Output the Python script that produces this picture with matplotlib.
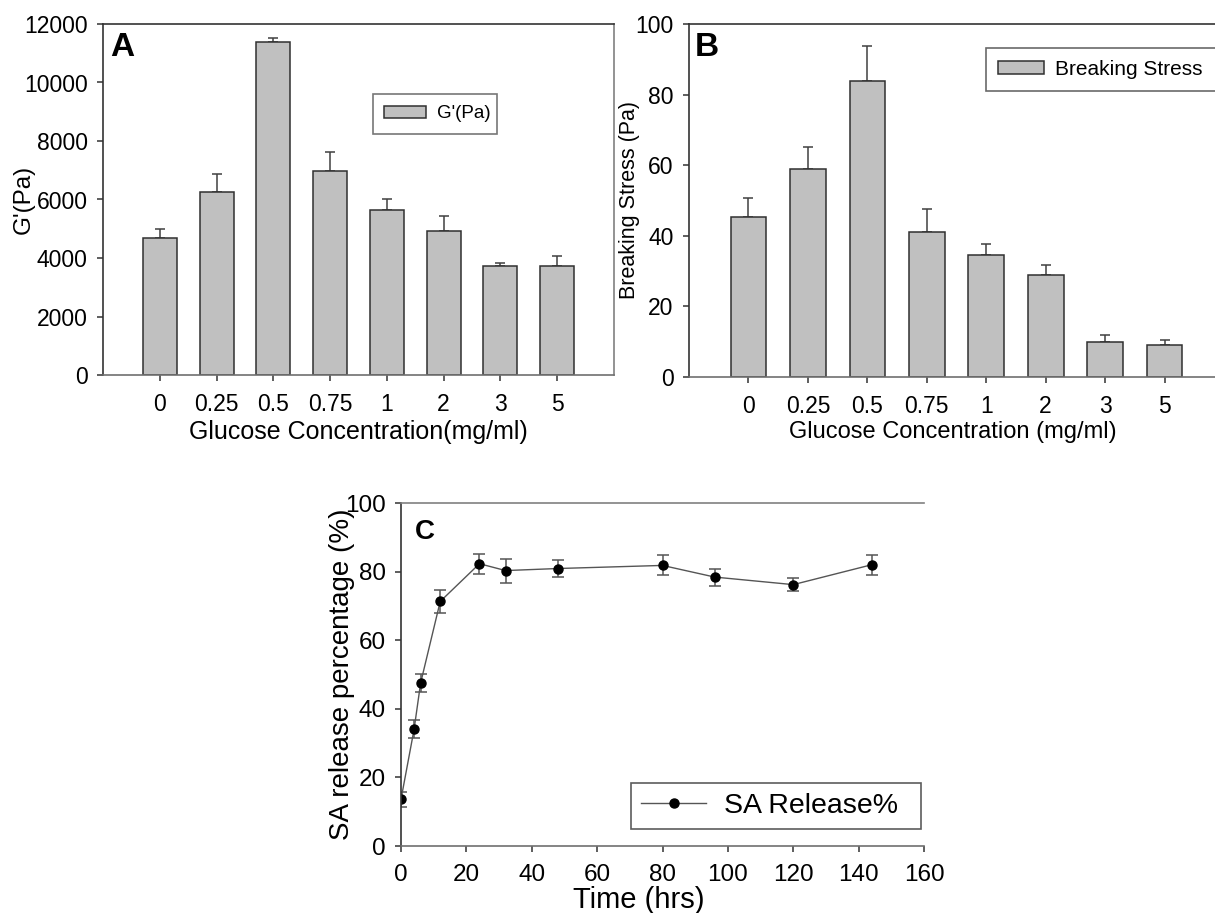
import numpy as np
import matplotlib
matplotlib.use("Agg")
import matplotlib.pyplot as plt

plt.rcParams['font.family'] = ['Liberation Sans', 'DejaVu Sans']

# ---- data ----
conc_labels = ['0', '0.25', '0.5', '0.75', '1', '2', '3', '5']
g_mean = [4690, 6250, 11370, 6970, 5635, 4916, 3718, 3718]
g_err = [310, 620, 140, 650, 365, 536, 100, 343]

bs_mean = [45.2, 58.8, 83.9, 41.2, 34.6, 29.0, 9.9, 9.0]
bs_err = [5.6, 6.4, 9.8, 6.3, 3.2, 2.6, 2.0, 1.4]

time_hrs = [0, 4, 6, 12, 24, 32, 48, 80, 96, 120, 144]
release = [13.6, 34.0, 47.5, 71.3, 82.3, 80.3, 80.9, 81.8, 78.4, 76.2, 82.0]
release_err = [2.1, 2.6, 2.7, 3.4, 2.9, 3.5, 2.6, 2.9, 2.5, 1.8, 2.9]

W, H = 1215, 913
fig = plt.figure(figsize=(W / 100, H / 100), dpi=100)


def box(left, top, right, bottom):
    # pixel box -> figure fraction rect
    return [left / W, 1 - bottom / H, (right - left) / W, (bottom - top) / H]


def px(x, y):
    return x / W, 1 - y / H


def style_spines(ax, right=True):
    ax.spines['left'].set_color('#333333')
    ax.spines['top'].set_color('#333333')
    ax.spines['bottom'].set_color('#707070')
    ax.spines['right'].set_color('#808080')
    ax.spines['right'].set_visible(right)
    for s in ax.spines.values():
        s.set_linewidth(1.2)
    ax.tick_params(direction='out', length=4, width=1.1, color='#333333',
                   labelsize=16.5, pad=7)
    ax.tick_params(axis='x', pad=9)
    ax.tick_params(top=False, right=False)


def legend_box(ax, left, top, right, bottom, **kw):
    # legend frame stretched over a pixel box
    x0, y0 = px(left, bottom)
    leg = ax.legend(loc='upper left', mode='expand',
                    bbox_to_anchor=(x0, y0, (right - left) / W, (bottom - top) / H),
                    bbox_transform=fig.transFigure, frameon=True, fancybox=False,
                    borderaxespad=0, **kw)
    leg.get_frame().set_linewidth(1.2)
    return leg


x = np.arange(len(conc_labels))

# - Panel A: storage modulus bars
axA = fig.add_axes(box(103, 24, 614, 375))
axA.bar(x, g_mean, width=0.6, color='#c0c0c0', edgecolor='#303030',
        linewidth=1.1, label="G'(Pa)", zorder=2)
axA.errorbar(x, g_mean, yerr=[np.zeros(len(g_err)), g_err], fmt='none',
             ecolor='#404040', elinewidth=1.1, capsize=3.5, capthick=1.1, zorder=1)
axA.set_xlim(-1, 8)
axA.set_ylim(0, 12000)
axA.set_yticks(range(0, 12001, 2000))
axA.set_xticks(x)
axA.set_xticklabels(conc_labels)
style_spines(axA)
axA.set_xlabel('Glucose Concentration(mg/ml)', fontsize=18)
axA.xaxis.set_label_coords(0.5, (375 - 432) / 351)
axA.xaxis.label.set_va('center')
axA.set_ylabel("G'(Pa)", fontsize=17.5)
axA.yaxis.set_label_coords((24 - 103) / 511, 0.5)
axA.yaxis.label.set_va('center')
fig.text(*px(122, 48), 'A', fontsize=24, fontweight='bold', ha='center', va='center')
legA = legend_box(axA, 373, 94, 497, 132, fontsize=13.5, borderpad=0.6,
                  handlelength=2.2, handleheight=0.6, handletextpad=0.6)
legA.get_frame().set_edgecolor('#555555')

# - Panel B: breaking stress bars
axB = fig.add_axes(box(689, 24, 1224, 377))
axB.bar(x, bs_mean, width=0.6, color='#c0c0c0', edgecolor='#303030',
        linewidth=1.1, label='Breaking Stress', zorder=2)
axB.errorbar(x, bs_mean, yerr=[np.zeros(len(bs_err)), bs_err], fmt='none',
             ecolor='#404040', elinewidth=1.1, capsize=3.5, capthick=1.1, zorder=1)
axB.set_xlim(-1, 8)
axB.set_ylim(0, 100)
axB.set_yticks(range(0, 101, 20))
axB.set_xticks(x)
axB.set_xticklabels(conc_labels)
style_spines(axB, right=False)
axB.set_xlabel('Glucose Concentration (mg/ml)', fontsize=17)
axB.xaxis.set_label_coords((953 - 689) / 535, (377 - 432) / 353)
axB.xaxis.label.set_va('center')
axB.set_ylabel('Breaking Stress (Pa)', fontsize=15.5)
axB.yaxis.set_label_coords((629 - 689) / 535, 0.5)
axB.yaxis.label.set_va('center')
fig.text(*px(707, 48), 'B', fontsize=24, fontweight='bold', ha='center', va='center')
legB = legend_box(axB, 986, 48, 1260, 89, fontsize=15, borderpad=0.58,
                  handlelength=2.2, handleheight=0.55, handletextpad=0.55)
legB.get_frame().set_edgecolor('#444444')

# - Panel C: release profile
axC = fig.add_axes(box(401, 503, 924, 846))
axC.errorbar(time_hrs, release, yerr=release_err, fmt='none', ecolor='#555555',
             elinewidth=1.1, capsize=4, capthick=1.1, zorder=1)
axC.plot(time_hrs, release, '-o', color='#555555', lw=1, markersize=6.5,
         markerfacecolor='black', markeredgecolor='black', label='SA Release%',
         zorder=2)
axC.set_xlim(0, 160)
axC.set_ylim(0, 100)
axC.set_xticks(range(0, 161, 20))
axC.set_yticks(range(0, 101, 20))
style_spines(axC, right=False)
axC.spines['top'].set_color('#808080')
axC.tick_params(labelsize=17.5)
axC.set_xlabel('Time (hrs)', fontsize=21)
axC.xaxis.set_label_coords((639 - 401) / 523, (846 - 900) / 343)
axC.xaxis.label.set_va('center')
axC.set_ylabel('SA release percentage (%)', fontsize=20)
axC.yaxis.set_label_coords((342 - 401) / 523, 0.5)
axC.yaxis.label.set_va('center')
fig.text(*px(425, 532), 'C', fontsize=20, fontweight='bold', ha='center', va='center')
legC = legend_box(axC, 631, 783, 921, 832, fontsize=20.5, borderpad=0.35,
                  handlelength=2.3, handletextpad=0.6)
legC.get_frame().set_edgecolor('#333333')

fig.savefig('out.png', dpi=100)
